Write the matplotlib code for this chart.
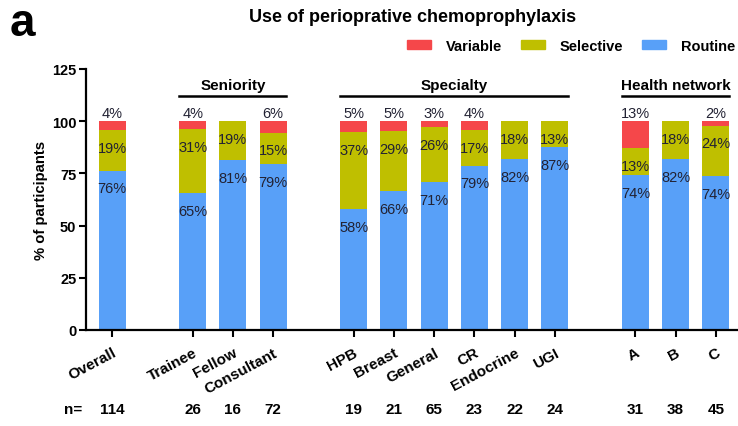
import matplotlib.pyplot as plt
from matplotlib.patches import Patch

plt.rcParams['font.family'] = ['Liberation Sans', 'DejaVu Sans']

# bar data (% of participants)
categories = ['Overall', 'Trainee', 'Fellow', 'Consultant', 'HPB', 'Breast', 'General',
              'CR', 'Endocrine', 'UGI', 'A', 'B', 'C']
positions = [0, 2, 3, 4, 6, 7, 8, 9, 10, 11, 13, 14, 15]
routine = [76.3, 65.4, 81.2, 79.2, 57.9, 66.4, 70.8, 78.6, 81.8, 87.4, 74.2, 81.6, 73.6]
selective = [19.3, 30.8, 18.8, 15.2, 36.8, 28.8, 26.1, 17.1, 18.2, 12.6, 12.9, 18.4, 24.2]
variable = [4.4, 3.8, 0, 5.6, 5.3, 4.8, 3.1, 4.3, 0, 0, 12.9, 0, 2.2]
n_values = [114, 26, 16, 72, 19, 21, 65, 23, 22, 24, 31, 38, 45]

groups = ['Seniority', 'Specialty', 'Health network']
group_first = [2, 6, 13]
group_last = [4, 11, 15]

red = '#F5474A'
olive = '#BFBF00'
blue = '#58A0F8'

fig = plt.figure(figsize=(7.38, 4.27), dpi=100)
ax = fig.add_axes([86 / 738, 96 / 427, 652 / 738, 261.25 / 427])

w = 0.67
bottom_sel = routine
bottom_var = [r + s for r, s in zip(routine, selective)]
ax.bar(positions, routine, width=w, color=blue)
ax.bar(positions, selective, width=w, bottom=bottom_sel, color=olive)
ax.bar(positions, variable, width=w, bottom=bottom_var, color=red)

# percentage labels
for x, r, s, v in zip(positions, routine, selective, variable):
    ax.text(x, r - 8.5, f'{round(r)}%', ha='center', va='center', fontsize=10.5, color='#222233')
    if s > 0:
        ax.text(x, r + s - 8.5, f'{round(s)}%', ha='center', va='center', fontsize=10.5, color='#222233')
    if v > 0:
        ax.text(x, r + s + v + 0.4, f'{round(v)}%', ha='center', va='bottom', fontsize=10.5, color='#222233')

# group brackets
for name, a, b in zip(groups, group_first, group_last):
    ax.plot([a - 0.33, b + 0.33], [112, 112], color='black', lw=1.8, clip_on=False)
    ax.text((a + b) / 2, 114, name, ha='center', va='bottom', fontsize=11, fontweight='bold')

# n row
ax.text(-0.97, -38, 'n=', ha='center', va='center', fontsize=11, fontweight='bold', clip_on=False)
for x, n in zip(positions, n_values):
    ax.text(x, -38, str(n), ha='center', va='center', fontsize=11, fontweight='bold', clip_on=False)

ax.set_xlim(-0.65, 15.55)
ax.set_ylim(0, 125)
ax.set_yticks([0, 25, 50, 75, 100, 125])
ax.set_xticks(positions)
ax.set_xticklabels(categories, rotation=28, ha='right', rotation_mode='anchor',
                   fontsize=11, fontweight='bold')
for lab in ax.get_yticklabels():
    lab.set_fontweight('bold')
    lab.set_fontsize(10.5)
ax.tick_params(axis='both', width=1.5, length=5, direction='out')
ax.tick_params(axis='x', pad=6)
ax.tick_params(axis='y', pad=2)
ax.spines['top'].set_visible(False)
ax.spines['right'].set_visible(False)
ax.spines['left'].set_linewidth(1.6)
ax.spines['bottom'].set_linewidth(1.6)
ax.set_ylabel('% of participants', fontsize=10.7, fontweight='bold', labelpad=3)

fig.text(413 / 738, 1 - 18 / 427, 'Use of perioprative chemoprophylaxis', ha='center', va='center',
         fontsize=13, fontweight='bold')
fig.text(22 / 738, 1 - 24 / 427, 'a', ha='center', va='center', fontsize=33, fontweight='bold')

handles = [Patch(color=red), Patch(color=olive), Patch(color=blue)]
fig.legend(handles, ['Variable', 'Selective', 'Routine'], loc='center right', ncol=3,
           bbox_to_anchor=(735 / 738, 1 - 47 / 427), frameon=False, borderpad=0,
           borderaxespad=0, prop={'weight': 'bold', 'size': 10.5}, handlelength=1.65,
           handleheight=0.6, handletextpad=1.0, columnspacing=1.3)

fig.savefig('out.png', dpi=100)
